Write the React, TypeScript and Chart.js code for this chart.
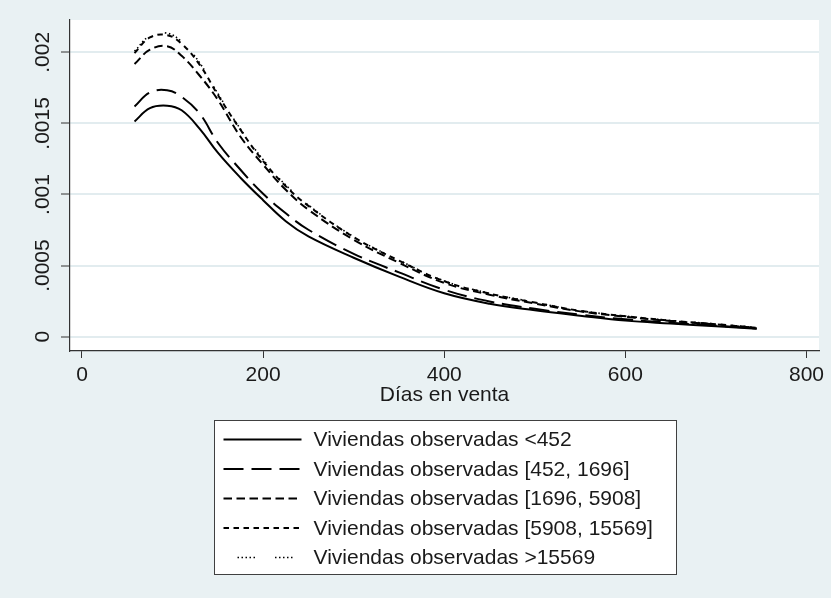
import React, { useEffect, useRef } from "react";
import { Chart, registerables } from "chart.js";

Chart.register(...registerables);

// ---- data ----
const days = [58, 75, 94, 110, 130, 150, 175, 200, 225, 250, 300, 350, 400, 450, 500, 550, 600, 650, 700, 745];

const hazardUnder452 = [0.001514, 0.001607, 0.001624, 0.001592, 0.001462, 0.001294, 0.001118, 0.00096, 0.000812, 0.000705, 0.000555, 0.000422, 0.000305, 0.000232, 0.000186, 0.000148, 0.000113, 0.000092, 0.000073, 0.000055];
const hazard452to1696 = [0.001619, 0.001717, 0.001733, 0.001687, 0.001568, 0.001364, 0.001174, 0.001005, 0.000868, 0.000752, 0.000583, 0.000452, 0.00033, 0.000248, 0.000196, 0.000155, 0.000122, 0.000098, 0.000078, 0.000058];
const hazard1696to5908 = [0.001917, 0.002018, 0.002042, 0.001975, 0.001835, 0.001666, 0.001406, 0.00121, 0.001033, 0.000893, 0.000682, 0.00052, 0.000378, 0.000295, 0.000233, 0.000178, 0.00014, 0.00011, 0.000086, 0.000062];
const hazard5908to15569 = [0.001994, 0.002104, 0.00212, 0.00206, 0.001912, 0.0017, 0.001455, 0.001235, 0.001058, 0.00092, 0.0007, 0.000535, 0.00039, 0.000303, 0.00024, 0.000182, 0.000144, 0.000113, 0.000088, 0.000063];
const hazardOver15569 = [0.002007, 0.002116, 0.002134, 0.002074, 0.001925, 0.00171, 0.00146, 0.001245, 0.001066, 0.000925, 0.000703, 0.000538, 0.000392, 0.000305, 0.000242, 0.000183, 0.000145, 0.000114, 0.000089, 0.000063];

const seriesLabels = [
  "Viviendas observadas <452",
  "Viviendas observadas [452, 1696]",
  "Viviendas observadas [1696, 5908]",
  "Viviendas observadas [5908, 15569]",
  "Viviendas observadas >15569",
];
const seriesValues = [hazardUnder452, hazard452to1696, hazard1696to5908, hazard5908to15569, hazardOver15569];

const xTickValues = [0, 200, 400, 600, 800];
const xTickLabels = ["0", "200", "400", "600", "800"];
const yTickValues = [0, 0.0005, 0.001, 0.0015, 0.002];
const yTickLabels = ["0", ".0005", ".001", ".0015", ".002"];
const xAxisTitle = "Días en venta";

// ---- styles ----
const FONT = '"Liberation Sans", Arial, Helvetica, sans-serif';
const FONT_SIZE = 21;
const TEXT_COLOR = "#1a1a1a";
const BG = "#e9f1f3";
const GRID = "#e2ecef";
const AXIS = "#333333";
const dashes: number[][] = [
  [],
  [20, 8],
  [8.5, 4.5],
  [5.5, 4.5],
  [1.5, 2.5, 1.5, 2.5, 1.5, 2.5, 1.5, 2.5, 1.5, 20],
];
const widths = [2, 2, 2, 2, 1.6];

const stataPlugin = {
  id: "stataDecor",
  beforeDraw(chart: any) {
    const { ctx, chartArea: a } = chart;
    ctx.save();
    ctx.fillStyle = "#ffffff";
    ctx.fillRect(a.left, a.top, a.right - a.left, a.bottom - a.top);
    ctx.restore();
  },
  afterDraw(chart: any) {
    const { ctx, chartArea: a } = chart;
    const yScale = chart.scales.y;
    ctx.save();
    ctx.font = `${FONT_SIZE}px ${FONT}`;
    ctx.fillStyle = TEXT_COLOR;
    // rotated y tick labels
    ctx.textAlign = "center";
    ctx.textBaseline = "middle";
    yScale.ticks.forEach((t: any, i: number) => {
      const py = yScale.getPixelForValue(t.value);
      ctx.save();
      ctx.translate(a.left - 27, py);
      ctx.rotate(-Math.PI / 2);
      ctx.fillText(yTickLabels[i], 0, 0);
      ctx.restore();
    });

    // legend box
    const boxW = 462;
    const boxH = 154;
    const cx = (a.left + a.right) / 2;
    const left = Math.round(cx - boxW / 2) + 0.5;
    const top = Math.round(a.bottom + 69) + 0.5;
    ctx.fillStyle = "#ffffff";
    ctx.fillRect(left, top, boxW, boxH);
    ctx.strokeStyle = "#404040";
    ctx.lineWidth = 1;
    ctx.setLineDash([]);
    ctx.strokeRect(left, top, boxW, boxH);

    ctx.textAlign = "left";
    ctx.textBaseline = "middle";
    chart.data.datasets.forEach((ds: any, i: number) => {
      const ry = top + 19 + i * 29.5;
      ctx.save();
      ctx.strokeStyle = "#000";
      ctx.lineWidth = ds.borderWidth;
      ctx.setLineDash(ds.borderDash || []);
      ctx.lineDashOffset = i === 4 ? -14 : 0;
      ctx.beginPath();
      ctx.moveTo(left + 9, ry);
      ctx.lineTo(left + 87, ry);
      ctx.stroke();
      ctx.restore();
      ctx.fillStyle = TEXT_COLOR;
      ctx.fillText(ds.label, left + 99, ry + 1);
    });
    ctx.restore();
  },
};

export default function App() {
  const ref = useRef<HTMLCanvasElement | null>(null);

  useEffect(() => {
    if (!ref.current) return;
    const chart = new Chart(ref.current, {
      type: "line",
      data: {
        datasets: seriesValues.map((vals, i) => ({
          label: seriesLabels[i],
          data: days.map((d, j) => ({ x: d, y: vals[j] })),
          borderColor: "#000000",
          backgroundColor: "#000000",
          borderWidth: widths[i],
          borderDash: dashes[i],
          pointRadius: 0,
          fill: false,
          tension: 0.4,
        })),
      },
      options: {
        animation: false,
        responsive: true,
        maintainAspectRatio: false,
        layout: { padding: { top: 20, right: 12, bottom: 187, left: 0 } },
        plugins: {
          legend: { display: false },
          tooltip: { enabled: false },
        },
        scales: {
          x: {
            type: "linear",
            min: -13.25,
            max: 813.8,
            afterBuildTicks: (s: any) => {
              s.ticks = xTickValues.map((v) => ({ value: v }));
            },
            afterFit: (s: any) => {
              s.height = 60;
            },
            grid: {
              display: true,
              drawOnChartArea: false,
              drawTicks: true,
              tickLength: 7,
              tickColor: AXIS,
              tickWidth: 1,
            },
            border: { display: true, color: AXIS, width: 1.2 },
            ticks: {
              autoSkip: false,
              maxRotation: 0,
              minRotation: 0,
              padding: 5,
              color: TEXT_COLOR,
              font: { family: FONT, size: FONT_SIZE },
              callback: (_v: any, i: number) => xTickLabels[i],
            },
            title: {
              display: true,
              text: xAxisTitle,
              color: TEXT_COLOR,
              font: { family: FONT, size: FONT_SIZE },
              padding: { top: 0, bottom: 3 },
            },
          },
          y: {
            type: "linear",
            min: -0.0001006,
            max: 0.002227,
            afterBuildTicks: (s: any) => {
              s.ticks = yTickValues.map((v) => ({ value: v }));
            },
            afterFit: (s: any) => {
              s.width = 70;
            },
            grid: {
              display: true,
              drawOnChartArea: true,
              drawTicks: true,
              tickLength: 9,
              color: GRID,
              lineWidth: 2,
              tickColor: AXIS,
              tickWidth: 1,
            },
            border: { display: true, color: AXIS, width: 1.2 },
            ticks: { display: false },
          },
        },
      },
      plugins: [stataPlugin],
    } as any);
    return () => chart.destroy();
  }, []);

  return (
    <div
      style={{
        position: "absolute",
        left: 0,
        top: 0,
        width: 831,
        height: 598,
        background: BG,
      }}
    >
      <canvas ref={ref} />
    </div>
  );
}
